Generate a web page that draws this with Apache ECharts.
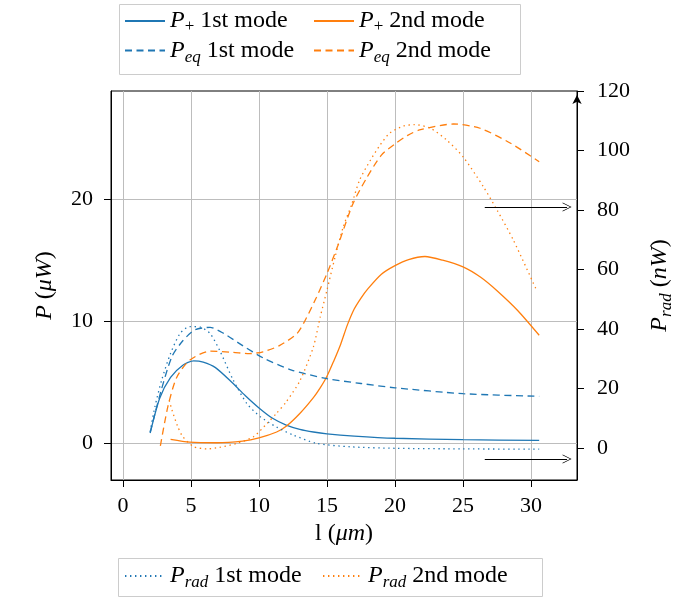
<!DOCTYPE html>
<html><head><meta charset="utf-8">
<script src="https://cdn.jsdelivr.net/npm/echarts@6/dist/echarts.min.js"></script>
<style>html,body{margin:0;padding:0;background:#fff}#c{width:692px;height:598px}</style>
</head><body><div id="c"></div>
<script>
// ---- tick labels ----
const xTicks = [0, 5, 10, 15, 20, 25, 30];
const leftTicks = [0, 10, 20];
const rightTicks = [0, 20, 40, 60, 80, 100, 120];

// ---- P+ 1st mode (left axis, uW) ----
const pPlus1X = [2.0, 2.7, 3.5, 4.4, 5.2, 5.9, 6.8, 8.0, 9.0, 10.0, 11.0, 12.0, 13.0, 14.0, 15.0, 17.0, 20.0, 25.0, 30.6];
const pPlus1Y = [0.85, 3.7, 5.4, 6.4, 6.75, 6.65, 6.2, 5.0, 3.9, 2.9, 2.05, 1.5, 1.15, 0.93, 0.78, 0.6, 0.42, 0.3, 0.25];

// ---- P+ 2nd mode (left axis, uW) ----
const pPlus2X = [3.5, 4.9, 6.9, 8.8, 10.0, 11.3, 12.0, 13.0, 14.0, 14.5, 15.0, 15.5, 16.0, 16.5, 17.0, 17.5, 18.0, 19.0, 20.0, 21.0, 22.2, 23.5, 25.0, 26.3, 27.5, 29.0, 30.6];
const pPlus2Y = [0.33, 0.1, 0.05, 0.19, 0.45, 0.93, 1.4, 2.45, 3.75, 4.55, 5.5, 6.75, 8.1, 9.7, 11.0, 11.9, 12.65, 13.85, 14.55, 15.05, 15.3, 15.0, 14.45, 13.6, 12.5, 10.9, 8.85];

// ---- Peq 1st mode (left axis, uW) ----
const pEq1X = [2.0, 2.8, 3.6, 4.4, 5.3, 6.4, 7.4, 8.8, 10.3, 12.4, 15.0, 17.5, 20.0, 25.0, 30.6];
const pEq1Y = [0.9, 4.3, 7.1, 8.4, 9.3, 9.5, 9.0, 8.0, 7.0, 6.0, 5.3, 4.9, 4.55, 4.07, 3.85];

// ---- Peq 2nd mode (left axis, uW) ----
const pEq2X = [2.75, 3.3, 3.95, 4.9, 6.4, 8.1, 9.3, 10.3, 11.5, 12.8, 13.5, 14.2, 15.0, 15.8, 16.9, 17.9, 19.0, 20.1, 20.9, 21.8, 24.3, 26.25, 28.5, 30.6];
const pEq2Y = [-0.2, 3.0, 5.4, 6.8, 7.55, 7.45, 7.35, 7.5, 8.0, 9.0, 10.3, 11.9, 13.9, 16.2, 19.6, 21.7, 23.6, 24.6, 25.2, 25.66, 26.15, 25.8, 24.57, 23.06];

// ---- Prad 1st mode (right axis, nW) ----
const pRad1X = [2.0, 2.35, 2.85, 3.5, 4.2, 4.9, 5.7, 6.4, 7.1, 8.1, 9.1, 10.1, 11.3, 12.5, 14.2, 16.7, 20.0, 25.0, 30.6];
const pRad1Y = [5.5, 13.9, 22.9, 31.8, 38.5, 40.8, 40.6, 38.5, 32.9, 22.9, 15.0, 10.5, 7.0, 4.4, 1.6, 0.4, -0.1, -0.3, -0.4];

// ---- Prad 2nd mode (right axis, nW) ----
const pRad2X = [3.4, 3.6, 4.0, 4.4, 5.2, 6.2, 7.1, 8.4, 9.6, 10.6, 11.3, 12.0, 13.0, 14.0, 14.5, 15.0, 15.6, 16.2, 16.8, 17.4, 18.2, 18.9, 19.6, 20.6, 21.4, 22.6, 23.8, 25.0, 26.5, 27.5, 28.7, 30.4];
const pRad2Y = [16, 12.8, 7.5, 3.8, 0.45, -0.3, 0.2, 1.6, 3.8, 8.3, 11.7, 15.5, 22.5, 34, 44, 53.1, 64.3, 74.4, 81.7, 90.1, 96.8, 101.8, 105.8, 108.2, 108.7, 107.5, 103.5, 97.9, 87.8, 80, 69.9, 53.1];

// ---- arrow annotations (data coords, right axis) ----
const arrowXs = [26.6, 32.65];
const arrowHighY = 81;
const arrowLowY = -3.7;

const zip = (xs, ys) => xs.map((x, i) => [x, ys[i]]);

const FONT = '"Liberation Serif", "Times New Roman", serif';
const BLUE = '#1f77b4', ORANGE = '#ff7f0e';
function mkRich(sz) {
  const sub = Math.round(sz * 0.7);
  return {
    i: { fontFamily: FONT, fontSize: sz, fontStyle: 'italic', color: '#000' },
    n: { fontFamily: FONT, fontSize: sz, color: '#000' },
    s: { fontFamily: FONT, fontSize: sub, fontStyle: 'italic', color: '#000', padding: [14, 0, 0, 0] },
    su: { fontFamily: FONT, fontSize: sub, color: '#000', padding: [12, 0, 0, 0] }
  };
}
const richL = mkRich(24);
const labels = {
  'P+ 1st mode': '{i|P}{su|+}{n| 1st mode}',
  'P+ 2nd mode': '{i|P}{su|+}{n| 2nd mode}',
  'Peq 1st mode': '{i|P}{s|eq}{n| 1st mode}',
  'Peq 2nd mode': '{i|P}{s|eq}{n| 2nd mode}',
  'Prad 1st mode': '{i|P}{s|rad}{n| 1st mode}',
  'Prad 2nd mode': '{i|P}{s|rad}{n| 2nd mode}'
};
const chevron = 'path://M0,10L5,0L10,10L9.2,10L5,1.6L0.8,10Z';

function mkSeries(name, xs, ys, color, type, yIdx) {
  return {
    name, type: 'line', yAxisIndex: yIdx, data: zip(xs, ys),
    showSymbol: false, symbol: 'none', smooth: 0.25,
    lineStyle: { color, width: 1.3, type, cap: 'butt' },
    itemStyle: { color }, silent: true, z: 3
  };
}
const DASH = [7, 4.5];
const DOT = [1.4, 3.6];

const series = [
  mkSeries('P+ 1st mode', pPlus1X, pPlus1Y, BLUE, 'solid', 0),
  mkSeries('P+ 2nd mode', pPlus2X, pPlus2Y, ORANGE, 'solid', 0),
  mkSeries('Peq 1st mode', pEq1X, pEq1Y, BLUE, DASH, 0),
  mkSeries('Peq 2nd mode', pEq2X, pEq2Y, ORANGE, DASH, 0),
  mkSeries('Prad 1st mode', pRad1X, pRad1Y, BLUE, DOT, 1),
  mkSeries('Prad 2nd mode', pRad2X, pRad2Y, ORANGE, DOT, 1)
];
const arrowMark = (y) => ({
  silent: true, symbol: ['none', chevron], symbolSize: [9, 9],
  label: { show: false },
  lineStyle: { color: '#000', width: 1, type: 'solid' },
  data: [[{ coord: [arrowXs[0], y] }, { coord: [arrowXs[1], y] }]]
});
series[5].markLine = arrowMark(arrowHighY);
series[4].markLine = arrowMark(arrowLowY);

const legendBase = {
  orient: 'vertical', padding: 0, itemGap: 3, itemWidth: 40, itemHeight: 14,
  selectedMode: false,
  itemStyle: { opacity: 0 },
  textStyle: { fontFamily: FONT, fontSize: 24, color: '#000', rich: richL },
  formatter: (n) => labels[n]
};

const chart = echarts.init(document.getElementById('c'), null, { renderer: 'canvas' });
chart.setOption({
  backgroundColor: '#fff',
  animation: false,
  grid: { left: 111, top: 91, right: 115, bottom: 118, show: true, borderColor: '#000', borderWidth: 1, backgroundColor: 'transparent' },
  legend: [
    Object.assign({}, legendBase, { left: 124, top: 9, data: ['P+ 1st mode', 'Peq 1st mode'] }),
    Object.assign({}, legendBase, { left: 313, top: 9, data: ['P+ 2nd mode', 'Peq 2nd mode'] }),
    Object.assign({}, legendBase, { left: 124, top: 564, data: ['Prad 1st mode'] }),
    Object.assign({}, legendBase, { left: 322, top: 564, data: ['Prad 2nd mode'] })
  ],
  graphic: [
    { type: 'rect', left: 117, top: 2, shape: { width: 401, height: 70 }, style: { fill: 'none', stroke: '#cccccc', lineWidth: 1 }, silent: true },
    { type: 'rect', left: 116, top: 556, shape: { width: 424, height: 38 }, style: { fill: 'none', stroke: '#cccccc', lineWidth: 1 }, silent: true }
  ],
  xAxis: {
    type: 'value', min: -0.88, max: 33.38,
    name: '{n|l (}{i|μm}{n|)}', nameLocation: 'middle', nameGap: 42,
    nameTextStyle: { rich: richL },
    axisLine: { onZero: false, lineStyle: { color: '#000', width: 1 } },
    axisTick: { show: true, length: 7, inside: false, customValues: xTicks, lineStyle: { color: '#000' } },
    axisLabel: { customValues: xTicks, margin: 15, fontFamily: FONT, fontSize: 22, color: '#000' },
    splitLine: { show: true, lineStyle: { color: '#bdbdbd', width: 1 } }
  },
  yAxis: [
    {
      type: 'value', position: 'left', min: -3.0, max: 28.85,
      name: '{i|P}{n| (}{i|μW}{n|)}', nameLocation: 'middle', nameGap: 54, nameRotate: 90,
      nameTextStyle: { rich: richL },
      axisLine: { show: true, onZero: false, lineStyle: { color: '#000', width: 1 } },
      axisTick: { show: true, length: 7, customValues: leftTicks, lineStyle: { color: '#000' } },
      axisLabel: { customValues: leftTicks, margin: 18, fontFamily: FONT, fontSize: 22, color: '#000' },
      splitLine: { show: true, lineStyle: { color: '#bdbdbd', width: 1 } }
    },
    {
      type: 'value', position: 'right', min: -10.76, max: 120,
      name: '{i|P}{s|rad}{n| (}{i|nW}{n|)}', nameLocation: 'middle', nameGap: 67, nameRotate: 90,
      nameTextStyle: { rich: richL },
      axisLine: { show: true, onZero: false, symbol: ['none', 'arrow'], symbolSize: [7, 9], symbolOffset: [0, -4], lineStyle: { color: '#000', width: 1 } },
      axisTick: { show: true, length: 7, customValues: rightTicks, lineStyle: { color: '#000' } },
      axisLabel: { customValues: rightTicks, margin: 20, fontFamily: FONT, fontSize: 22, color: '#000' },
      splitLine: { show: false }
    }
  ],
  series
});
</script></body></html>
